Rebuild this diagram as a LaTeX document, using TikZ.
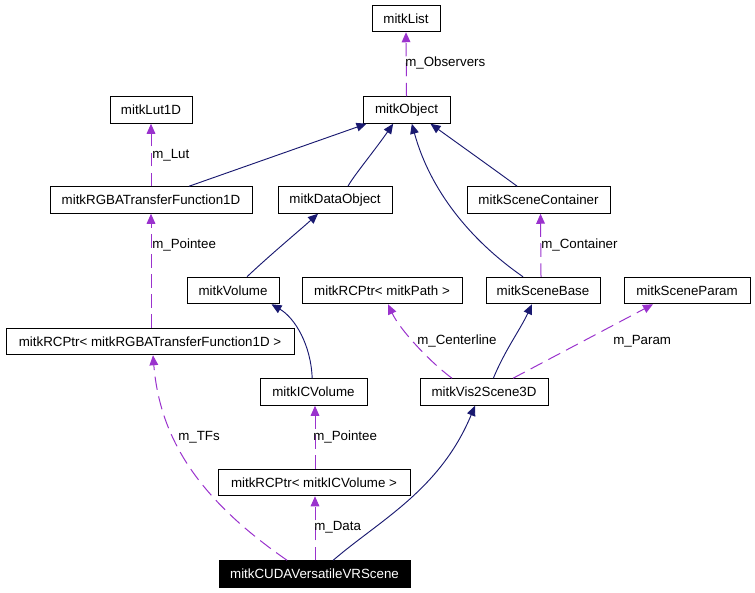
\documentclass[tikz,border=0pt]{standalone}
\usepackage{fontspec}
\setmainfont{Liberation Sans}
\usetikzlibrary{arrows.meta}
\definecolor{navy}{HTML}{191970}
\definecolor{purp}{HTML}{9A32CD}
\begin{document}
\begin{tikzpicture}[x=0.75pt,y=-0.75pt,
  box/.style={draw=black,line width=0.75pt,minimum width=#1*0.75pt,minimum height=26.5*0.75pt,inner sep=0pt,font=\fontsize{10pt}{12pt}\selectfont},
  dark/.style={fill=black,text=white,draw=black},
  inh/.style={draw=navy,line width=0.7pt,-{Triangle[length=7.5pt,width=6.5pt,fill=navy]}},
  use/.style={draw=purp,line width=0.75pt,dash pattern=on 10pt off 5pt,-{Triangle[length=7.5pt,width=6.5pt,fill=purp]}},
  lbl/.style={anchor=west,inner sep=0pt,font=\fontsize{10pt}{12pt}\selectfont}]
\useasboundingbox (0,0) rectangle (755,592);
\node[box=68] (list) at (406,18.5) {mitkList};
\node[box=87] (object) at (406.5,110) {mitkObject};
\node[box=82] (lut) at (151,110) {mitkLut1D};
\node[box=202] (rgba) at (151,200) {mitkRGBATransferFunction1D};
\node[box=114] (dataobj) at (335,200) {mitkDataObject};
\node[box=143] (scont) at (538.5,200) {mitkSceneContainer};
\node[box=92] (volume) at (233,290.5) {mitkVolume};
\node[box=160] (rcpath) at (382,290.5) {mitkRCPtr< mitkPath >};
\node[box=114] (sbase) at (543,290.5) {mitkSceneBase};
\node[box=126] (sparam) at (687,290.5) {mitkSceneParam};
\node[box=288] (rcrgba) at (150,341.5) {mitkRCPtr< mitkRGBATransferFunction1D >};
\node[box=107] (icvol) at (313.5,392) {mitkICVolume};
\node[box=128] (vis) at (484,392) {mitkVis2Scene3D};
\node[box=192] (rcicv) at (314,482.5) {mitkRCPtr< mitkICVolume >};
\node[box=191,dark] (cuda) at (314.5,574) {mitkCUDAVersatileVRScene};

% dashed usage edges
\draw[use] (object.north) -- (list.south);
\draw[use] (rgba.north) -- (lut.south);
\draw[use] ([xshift=-1.5pt]sbase.north) -- ([xshift=1.5pt]scont.south);
\draw[use] ([xshift=0.75pt]rcrgba.north) -- (rgba.south);
\draw[use] ([xshift=0.75pt]rcicv.north) -- ([xshift=1.125pt]icvol.south);
\draw[use] ([xshift=0.375pt]cuda.north) -- ([xshift=0.75pt]rcicv.south);
\draw[use] ([xshift=-24pt]vis.north) .. controls (430,362) and (400,330) .. ([xshift=4.5pt]rcpath.south);
\draw[use] ([xshift=21.75pt]vis.north) -- ([xshift=-25.5pt]sparam.south);
\draw[use] ([xshift=-20.6pt]cuda.north) .. controls (200,500) and (160,440) .. ([xshift=2.25pt]rcrgba.south);

% inheritance edges
\draw[inh] ([xshift=28.5pt]rgba.north) -- ([xshift=3pt]object.south west);
\draw[inh] ([xshift=9.75pt]dataobj.north) .. controls (352,178) and (375,150) .. ([xshift=-10pt]object.south);
\draw[inh] ([xshift=-15pt]sbase.north) .. controls (470,240) and (430,190) .. ([xshift=4pt]object.south);
\draw[inh] ([xshift=-16pt]scont.north) .. controls (495,170) and (460,145) .. ([xshift=-15pt]object.south east);
\draw[inh] ([xshift=10.5pt]volume.north) .. controls (270,255) and (300,230) .. ([xshift=-12.75pt]dataobj.south);
\draw[inh] ([xshift=-1pt]icvol.north) .. controls (311,345) and (295,318) .. ([xshift=-6pt]volume.south east);
\draw[inh] ([xshift=7pt]vis.north) .. controls (505,350) and (520,330) .. ([xshift=-8.25pt]sbase.south);
\draw[inh] ([xshift=14pt]cuda.north) .. controls (380,520) and (440,490) .. ([xshift=-6.75pt]vis.south);

% labels
\node[lbl] (l1) at (405,63) {m\_Observers};
\node[lbl] (l2) at (152,155) {m\_Lut};
\node[lbl] (l3) at (541,245) {m\_Container};
\node[lbl] (l4) at (152,245) {m\_Pointee};
\node[lbl] (l5) at (417,341) {m\_Centerline};
\node[lbl] (l6) at (613,341) {m\_Param};
\node[lbl] (l7) at (178,437) {m\_TFs};
\node[lbl] (l8) at (313,437) {m\_Pointee};
\node[lbl] (l9) at (314,527) {m\_Data};
\end{tikzpicture}
\end{document}
